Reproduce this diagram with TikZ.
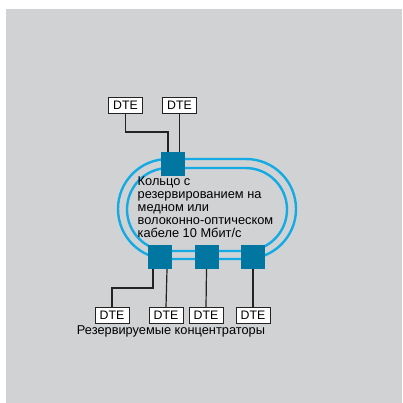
\documentclass[tikz,border=0pt]{standalone}
\usepackage{fontspec}
\setmainfont{Liberation Sans}
\definecolor{bgGray}{RGB}{209,210,212}
\definecolor{ringBlue}{RGB}{20,170,228}
\definecolor{hubBlue}{RGB}{0,118,160}
\definecolor{wireGray}{RGB}{35,35,35}
\tikzset{
	dte/.style = {draw=wireGray, fill=white, line width=0.8pt, minimum width=34pt, minimum height=16pt, inner sep=0pt, font=\fontsize{12.3}{13}\selectfont},
	hub/.style = {fill=hubBlue, minimum size=24pt, inner sep=0pt},
	ring/.style = {draw=ringBlue, line width=2.4pt},
	wire/.style = {draw=wireGray, line width=1.2pt}
}
\begin{document}
\begin{tikzpicture}[x=1pt, y=-1pt]
	\useasboundingbox (0,0) rectangle (402,403);
	\fill[bgGray] (6,9) rectangle (402,403);
	% the doubled ring
	\draw[ring, rounded corners=50pt] (118,159) rectangle (296,259);
	\draw[ring, rounded corners=41.5pt] (127,168) rectangle (287,251);
	% hubs on the ring
	\node[hub] (hubtop) at (173,164) {};
	\node[hub] (hubA) at (160,257) {};
	\node[hub] (hubB) at (206.5,257) {};
	\node[hub] (hubC) at (253,257) {};
	% stations
	\node[dte] (dteA) at (125.5,105.5) {DTE};
	\node[dte] (dteB) at (179.5,105.5) {DTE};
	\node[dte] (dte1) at (112,315.5) {DTE};
	\node[dte] (dte2) at (166,315.5) {DTE};
	\node[dte] (dte3) at (206,315.5) {DTE};
	\node[dte] (dte4) at (253,315.5) {DTE};
	% wires
	\coordinate (bendT) at (168,132);
	\coordinate (bendA) at (112,288);
	\draw[wire] (dteA.south) |- (bendT) -- ([xshift=-5pt]hubtop.north);
	\draw[wire] (dteB.south) -- (dteB.south |- hubtop.north);
	\draw[wire] ([xshift=-7pt]hubA.south) |- (bendA) -- (dte1.north);
	\draw[wire] ([xshift=7pt]hubA.south) -- (dte2.north);
	\draw[wire] (hubB.south) -- (dte3.north);
	\draw[wire] (hubC.south) -- (dte4.north);
	% labels
	\node[anchor=north west, align=left, inner sep=0pt, font=\fontsize{12.8}{13}\selectfont] (ringtext) at (137.5,176.5)
		{Кольцо с\\резервированием на\\медном или\\волоконно-оптическом\\кабеле 10 Мбит/с};
	\node[font=\fontsize{12.8}{13}\selectfont] (hubtext) at (171,331) {Резервируемые концентраторы};
\end{tikzpicture}
\end{document}
